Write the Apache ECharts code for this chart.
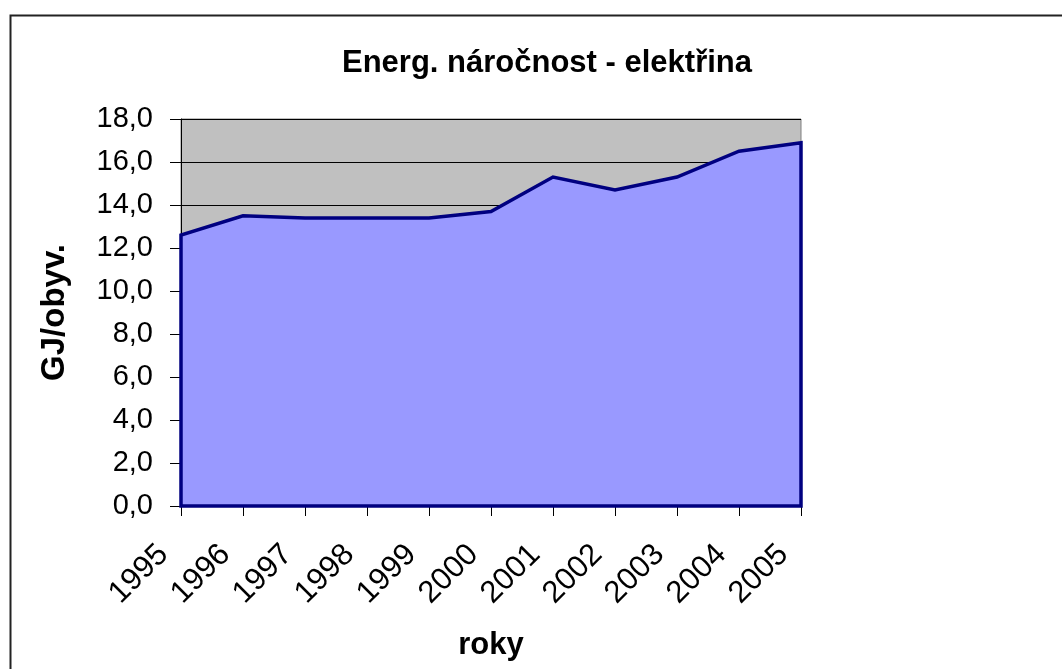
<!DOCTYPE html>
<html>
<head>
<meta charset="utf-8">
<script src="https://cdn.jsdelivr.net/npm/echarts@6/dist/echarts.min.js"></script>
<style>
html,body{margin:0;padding:0;background:#fff;}
#chart{width:1062px;height:669px;}
</style>
</head>
<body>
<div id="chart"></div>
<script>
const titleText = 'Energ. náročnost - elektřina';
const years = ['1995','1996','1997','1998','1999','2000','2001','2002','2003','2004','2005'];
const values = [12.6, 13.5, 13.4, 13.4, 13.4, 13.7, 15.3, 14.7, 15.3, 16.5, 16.9];
const yAxisTitle = 'GJ/obyv.';
const xAxisTitle = 'roky';
const yMin = 0, yMax = 18, yStep = 2;

const FONT = '"Liberation Sans", Arial, sans-serif';
const chart = echarts.init(document.getElementById('chart'), null, {renderer:'canvas'});
chart.setOption({
  animation: false,
  backgroundColor: '#ffffff',
  title: {
    text: titleText,
    left: 337,
    top: 43,
    textStyle: {fontFamily: FONT, fontSize: 31, fontWeight: 'bold', color: '#000'}
  },
  graphic: [{
    type: 'rect',
    left: 8, top: 13,
    shape: {width: 1100, height: 700},
    style: {fill: 'none', stroke: '#222', lineWidth: 2},
    silent: true, z: 100
  }],
  grid: {
    left: 181, top: 119, right: 261, bottom: 163,
    show: true, backgroundColor: '#C0C0C0', borderColor: '#808080', borderWidth: 1
  },
  xAxis: {
    type: 'category',
    data: years,
    boundaryGap: false,
    name: xAxisTitle,
    nameLocation: 'middle',
    nameGap: 124,
    nameTextStyle: {fontFamily: FONT, fontSize: 31, fontWeight: 'bold', color: '#000'},
    axisLine: {show: true, lineStyle: {color: '#000', width: 1}},
    axisTick: {show: true, length: 10, lineStyle: {color: '#000'}, alignWithLabel: true},
    axisLabel: {rotate: 45, margin: 26, padding: [0, 25, 0, 0], fontFamily: FONT, fontSize: 31, color: '#000', interval: 0},
    splitLine: {show: false}
  },
  yAxis: {
    type: 'value',
    min: yMin, max: yMax, interval: yStep,
    name: yAxisTitle,
    nameLocation: 'middle',
    nameGap: 110,
    nameRotate: 90,
    nameTextStyle: {fontFamily: FONT, fontSize: 33, fontWeight: 'bold', color: '#000'},
    axisLine: {show: true, lineStyle: {color: '#000', width: 1}},
    axisTick: {show: true, length: 11, lineStyle: {color: '#000'}},
    axisLabel: {
      margin: 28, fontFamily: FONT, fontSize: 29, color: '#000',
      formatter: v => v.toFixed(1).replace('.', ',')
    },
    splitLine: {show: true, lineStyle: {color: '#000', width: 1}}
  },
  series: [{
    type: 'custom',
    data: values.map((v, i) => [i, v]),
    renderItem: function (params, api) {
      if (params.dataIndex !== 0) return null;
      const pts = values.map((v, i) => api.coord([i, v]));
      const b0 = api.coord([0, 0]);
      const b1 = api.coord([values.length - 1, 0]);
      return {
        type: 'polygon',
        shape: {points: [b0].concat(pts, [b1])},
        style: {fill: '#9999FF', stroke: '#000080', lineWidth: 3.5, lineJoin: 'miter'}
      };
    },
    clip: false,
    z: 3
  }]
});
</script>
</body>
</html>
